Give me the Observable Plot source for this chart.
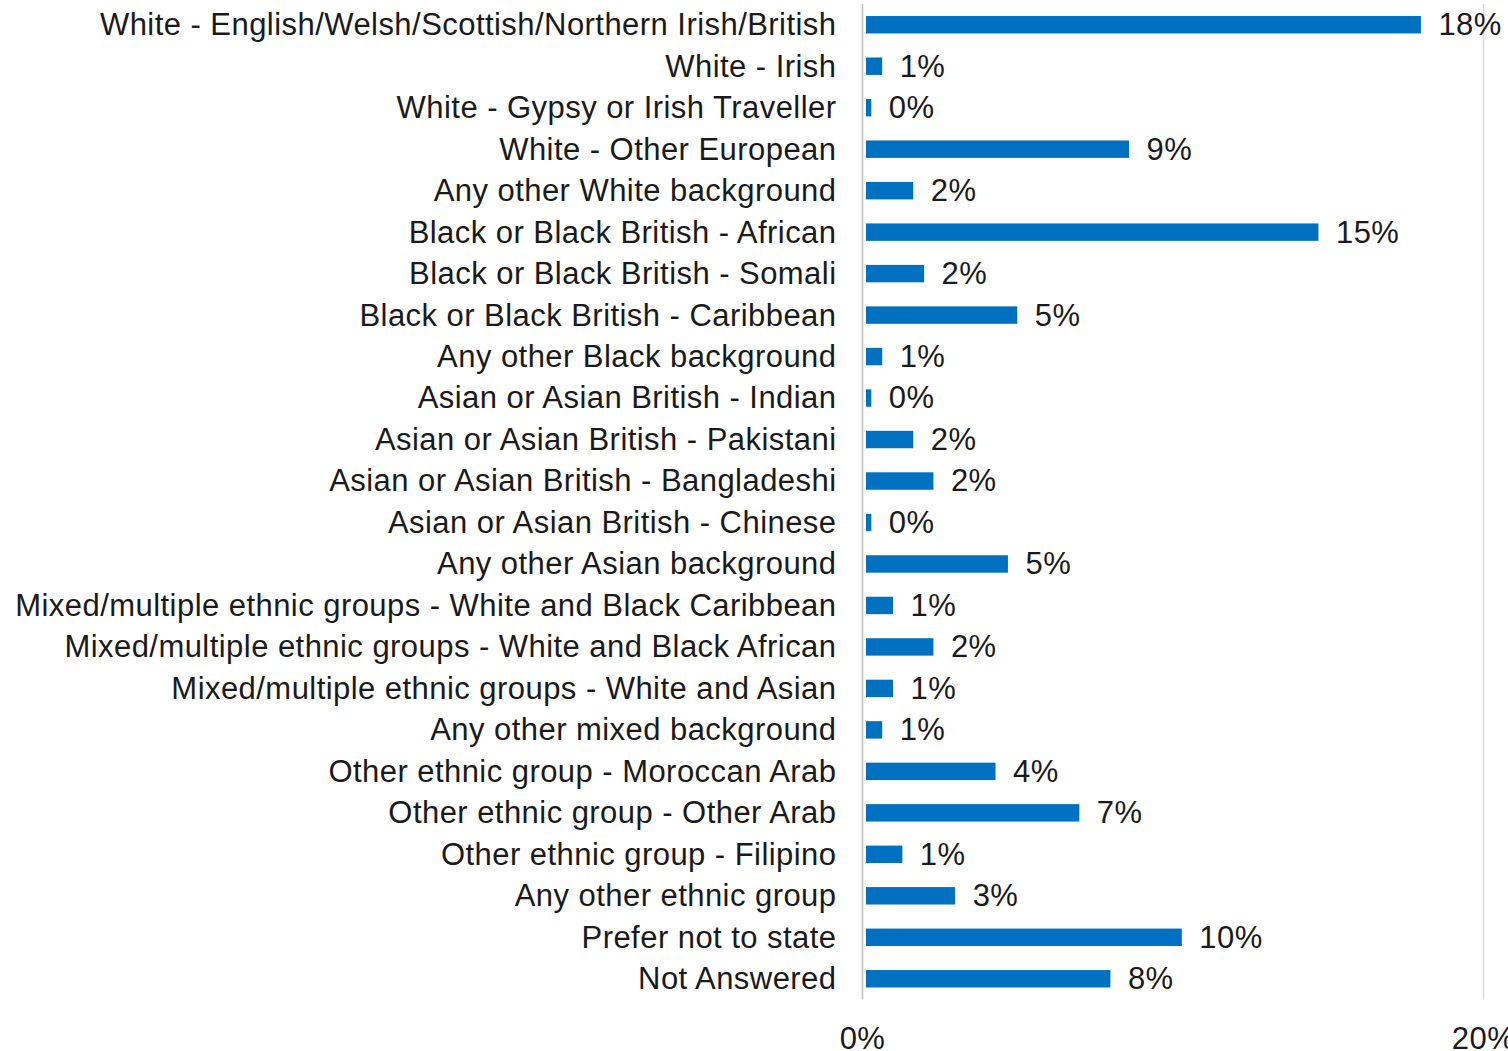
<!DOCTYPE html>
<html>
<head>
<meta charset="utf-8">
<script src="https://cdn.jsdelivr.net/npm/d3@7"></script>
<script src="https://cdn.jsdelivr.net/npm/@observablehq/plot@0.6"></script>
<style>
  html, body { margin: 0; padding: 0; background: #fff; }
  #chart svg { display: block; }
  #chart svg text { letter-spacing: 0.45px; }
</style>
</head>
<body>
<div id="chart"></div>
<script>
const categories = [
  "White - English/Welsh/Scottish/Northern Irish/British",
  "White - Irish",
  "White - Gypsy or Irish Traveller",
  "White - Other European",
  "Any other White background",
  "Black or Black British - African",
  "Black or Black British - Somali",
  "Black or Black British - Caribbean",
  "Any other Black background",
  "Asian or Asian British - Indian",
  "Asian or Asian British - Pakistani",
  "Asian or Asian British - Bangladeshi",
  "Asian or Asian British - Chinese",
  "Any other Asian background",
  "Mixed/multiple ethnic groups - White and Black Caribbean",
  "Mixed/multiple ethnic groups - White and Black African",
  "Mixed/multiple ethnic groups - White and Asian",
  "Any other mixed background",
  "Other ethnic group - Moroccan Arab",
  "Other ethnic group - Other Arab",
  "Other ethnic group - Filipino",
  "Any other ethnic group",
  "Prefer not to state",
  "Not Answered"
];
const shares = [18.0, 0.65, 0.3, 8.6, 1.65, 14.7, 2.0, 5.0, 0.65, 0.3, 1.65, 2.3, 0.3, 4.7, 1.0, 2.3, 1.0, 0.65, 4.3, 7.0, 1.3, 3.0, 10.3, 8.0];
const xTicks = [0, 20];

const data = categories.map((c, i) => ({category: c, value: shares[i]}));

const font = "'Liberation Sans', Arial, sans-serif";
const chart = Plot.plot({
  width: 1508,
  height: 1051,
  marginTop: 4,
  marginBottom: 51.5,
  marginLeft: 862,
  marginRight: 25,
  style: {fontFamily: font, fontSize: "31px", color: "#1a1a1a", background: "#fff"},
  x: {domain: [0, 20], ticks: xTicks, tickFormat: d => d + "%", tickSize: 0, tickPadding: 27, label: null},
  y: {domain: categories, paddingInner: 0.58, paddingOuter: 0.29, round: false, tickSize: 0, tickPadding: 26, label: null},
  marks: [
    Plot.ruleX([20], {stroke: "#d9d9d9", strokeWidth: 1.5}),
    Plot.ruleX([0], {stroke: "#bfbfbf", strokeWidth: 1.5}),
    Plot.barX(data, {x: "value", y: "category", fill: "#0070C0", insetLeft: 4}),
    Plot.text(data, {x: "value", y: "category", text: d => Math.round(d.value) + "%", textAnchor: "start", dx: 17, fill: "#1a1a1a", fontSize: 31}),
    Plot.axisY({tickSize: 0, tickPadding: 26, fontSize: 31, fill: "#1a1a1a"}),
    Plot.axisX({ticks: xTicks, tickFormat: d => d + "%", tickSize: 0, tickPadding: 27, fontSize: 31, fill: "#1a1a1a"})
  ]
});
document.getElementById("chart").appendChild(chart);
</script>
</body>
</html>
